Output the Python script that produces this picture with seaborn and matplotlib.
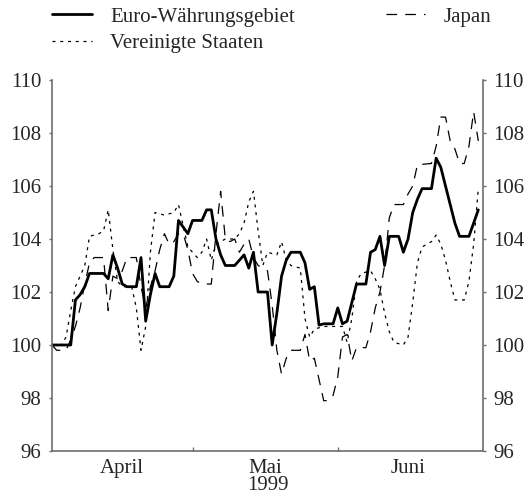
import pandas as pd
import matplotlib
matplotlib.use("Agg")
import matplotlib.pyplot as plt
import seaborn as sns

# ---- data (days counted from 1 April 1999, index values) ----
start_date = "1999-04-01"
series_names = ["Euro-Währungsgebiet", "Vereinigte Staaten", "Japan"]

euro_days = [0, 4, 5, 6, 7, 8, 11, 12, 13, 14, 15, 16, 18, 19, 20, 21, 22, 23, 25, 26,
             27, 29, 30, 32, 33, 34, 35, 36, 37, 39, 41, 42, 43, 44, 46, 47, 48, 49, 50, 51,
             53, 54, 55, 56, 57, 58, 60, 61, 62, 63, 65, 67, 68, 69, 70, 71, 72, 74, 75, 76,
             77, 78, 79, 81, 82, 83, 86, 87, 89, 90, 91]
euro_vals = [100.0, 100.0, 101.7, 101.9, 102.2, 102.7, 102.7, 102.5, 103.4, 102.9, 102.3, 102.2, 102.2, 103.3, 100.9, 101.9, 102.7, 102.2, 102.2, 102.6,
             104.7, 104.2, 104.7, 104.7, 105.1, 105.1, 104.0, 103.4, 103.0, 103.0, 103.4, 102.9, 103.5, 102.0, 102.0, 100.0, 101.2, 102.6, 103.2, 103.5,
             103.5, 103.1, 102.1, 102.2, 100.75, 100.8, 100.8, 101.4, 100.8, 100.9, 102.3, 102.3, 103.5, 103.6, 104.1, 103.0, 104.1, 104.1, 103.5, 104.0,
             105.0, 105.5, 105.9, 105.9, 107.05, 106.7, 104.6, 104.1, 104.1, 104.6, 105.1]

usa_days = [0, 2, 3, 4, 5, 6, 7, 8, 10, 11, 12, 13, 14, 15, 17, 18, 19, 20, 21, 22,
            24, 26, 27, 28, 29, 31, 32, 33, 34, 35, 37, 39, 40, 41, 42, 43, 44, 45, 46, 48,
            49, 50, 51, 53, 54, 55, 56, 58, 62, 63, 64, 65, 66, 68, 69, 70, 71, 72, 73, 75,
            76, 77, 78, 79, 81, 82, 83, 84, 85, 86, 88, 89, 90, 91]
usa_vals = [100.0, 100.0, 100.3, 101.3, 102.2, 102.6, 103.0, 104.1, 104.2, 104.3, 105.1, 103.6, 102.4, 102.2, 102.2, 101.4, 99.8, 100.7, 103.5, 105.0,
            104.9, 105.0, 105.3, 104.5, 103.7, 103.3, 103.5, 104.0, 103.2, 103.8, 104.0, 104.0, 104.2, 104.6, 105.4, 105.8, 104.3, 103.0, 103.5, 103.4,
            103.9, 103.2, 103.0, 102.9, 101.0, 100.3, 100.6, 100.7, 100.7, 100.1, 101.0, 102.4, 102.7, 102.8, 102.5, 102.1, 101.2, 100.5, 100.1, 100.0,
            100.3, 101.6, 103.1, 103.7, 103.9, 104.15, 103.8, 103.2, 102.4, 101.7, 101.7, 102.4, 103.8, 105.9]

jpn_days = [0, 1, 3, 4, 5, 6, 7, 8, 9, 11, 12, 13, 14, 15, 16, 18, 19, 20, 21, 22,
            23, 24, 25, 26, 27, 28, 29, 30, 31, 32, 34, 35, 36, 37, 38, 39, 40, 41, 42, 43,
            44, 46, 47, 48, 49, 50, 51, 53, 54, 55, 56, 57, 58, 59, 60, 61, 62, 63, 64, 65,
            67, 68, 69, 70, 71, 72, 73, 75, 76, 77, 78, 81, 82, 83, 84, 85, 86, 87, 88, 89,
            90, 91]
jpn_vals = [100.0, 99.8, 99.8, 100.2, 100.7, 101.4, 102.3, 103.1, 103.3, 103.3, 101.3, 102.6, 102.5, 102.8, 103.3, 103.3, 102.2, 101.4, 102.2, 102.8,
            103.6, 104.2, 103.8, 103.9, 104.2, 104.2, 103.6, 102.7, 102.4, 102.3, 102.3, 104.2, 105.8, 104.0, 103.9, 104.0, 103.5, 103.8, 104.0, 103.3,
            103.0, 102.8, 101.5, 99.8, 98.9, 99.5, 99.8, 99.8, 100.4, 99.4, 99.5, 98.7, 97.9, 97.9, 98.1, 98.8, 100.3, 100.4, 99.4, 99.9,
            99.9, 100.5, 101.4, 102.0, 103.0, 104.8, 105.3, 105.3, 105.7, 106.0, 106.8, 106.85, 107.5, 108.6, 108.6, 107.7, 107.4, 106.85, 106.85, 107.5,
            108.8, 107.7]

y_ticks = [96, 98, 100, 102, 104, 106, 108, 110]
month_labels = ["April", "Mai", "Juni"]
year_label = "1999"


def to_frame(days, vals, name):
    return pd.DataFrame({
        "Datum": pd.Timestamp(start_date) + pd.to_timedelta(days, unit="D"),
        "Index": vals,
        "Serie": name,
    })


df_euro = to_frame(euro_days, euro_vals, series_names[0])
df_usa = to_frame(usa_days, usa_vals, series_names[1])
df_jpn = to_frame(jpn_days, jpn_vals, series_names[2])

sns.set_theme(style="white")
plt.rcParams["font.family"] = ["Liberation Serif", "DejaVu Serif"]
plt.rcParams["axes.unicode_minus"] = False

W, H = 528, 494
fig = plt.figure(figsize=(W / 100, H / 100), dpi=100)
ax = fig.add_axes([52 / W, 1 - 451 / H, 431 / W, 371 / H])

sns.lineplot(data=df_euro, x="Datum", y="Index", color="black", lw=2.0,
             ax=ax, label=series_names[0])
sns.lineplot(data=df_usa, x="Datum", y="Index", color="black", lw=0.9,
             linestyle=(0, (2.4, 3.8)), ax=ax, label=series_names[1])
sns.lineplot(data=df_jpn, x="Datum", y="Index", color="black", lw=0.9,
             linestyle=(0, (8.5, 6.5)), ax=ax, label=series_names[2])

# axes limits
ax.set_xlim(pd.Timestamp("1999-04-01"), pd.Timestamp("1999-07-02"))
ax.set_ylim(96, 110)

# y axis: both sides
ax.set_yticks(y_ticks)
ax.set_yticklabels([str(v) for v in y_ticks])
ax.tick_params(axis="y", which="both", left=True, right=True, labelleft=True,
               labelright=True, direction="out", length=2.5, width=1,
               color="#6e6e6e", labelsize=15, pad=5)

# x axis: month boundaries as ticks, month names at mid-month
month_starts = [pd.Timestamp("1999-05-01"), pd.Timestamp("1999-06-01")]
mid_months = [pd.Timestamp("1999-04-01") + pd.Timedelta(days=15),
              pd.Timestamp("1999-05-01") + pd.Timedelta(days=15.5),
              pd.Timestamp("1999-06-01") + pd.Timedelta(days=15)]
ax.set_xticks(month_starts)
ax.set_xticklabels(["", ""])
ax.set_xticks(mid_months, minor=True)
ax.set_xticklabels(month_labels, minor=True)
ax.tick_params(axis="x", which="major", direction="in", length=3, width=1,
               color="#6e6e6e", bottom=True)
ax.tick_params(axis="x", which="minor", length=0, labelsize=15, pad=5.5, bottom=True)
ax.set_xlabel(year_label, fontsize=15, labelpad=-1.2)
ax.set_ylabel("")

for side in ["left", "right", "bottom"]:
    ax.spines[side].set_visible(True)
    ax.spines[side].set_color("#6e6e6e")
    ax.spines[side].set_linewidth(1.2)
ax.spines["top"].set_visible(False)

handles, labels = ax.get_legend_handles_labels()
ax.get_legend().remove()
fig.legend(handles, labels, loc="upper left", bbox_to_anchor=(52 / W, 1 - 7 / H),
           ncol=2, frameon=False, fontsize=15, handlelength=1.9,
           handletextpad=0.9, columnspacing=4.35, labelspacing=0.34,
           borderpad=0, borderaxespad=0)

fig.savefig("out.png", dpi=100)
